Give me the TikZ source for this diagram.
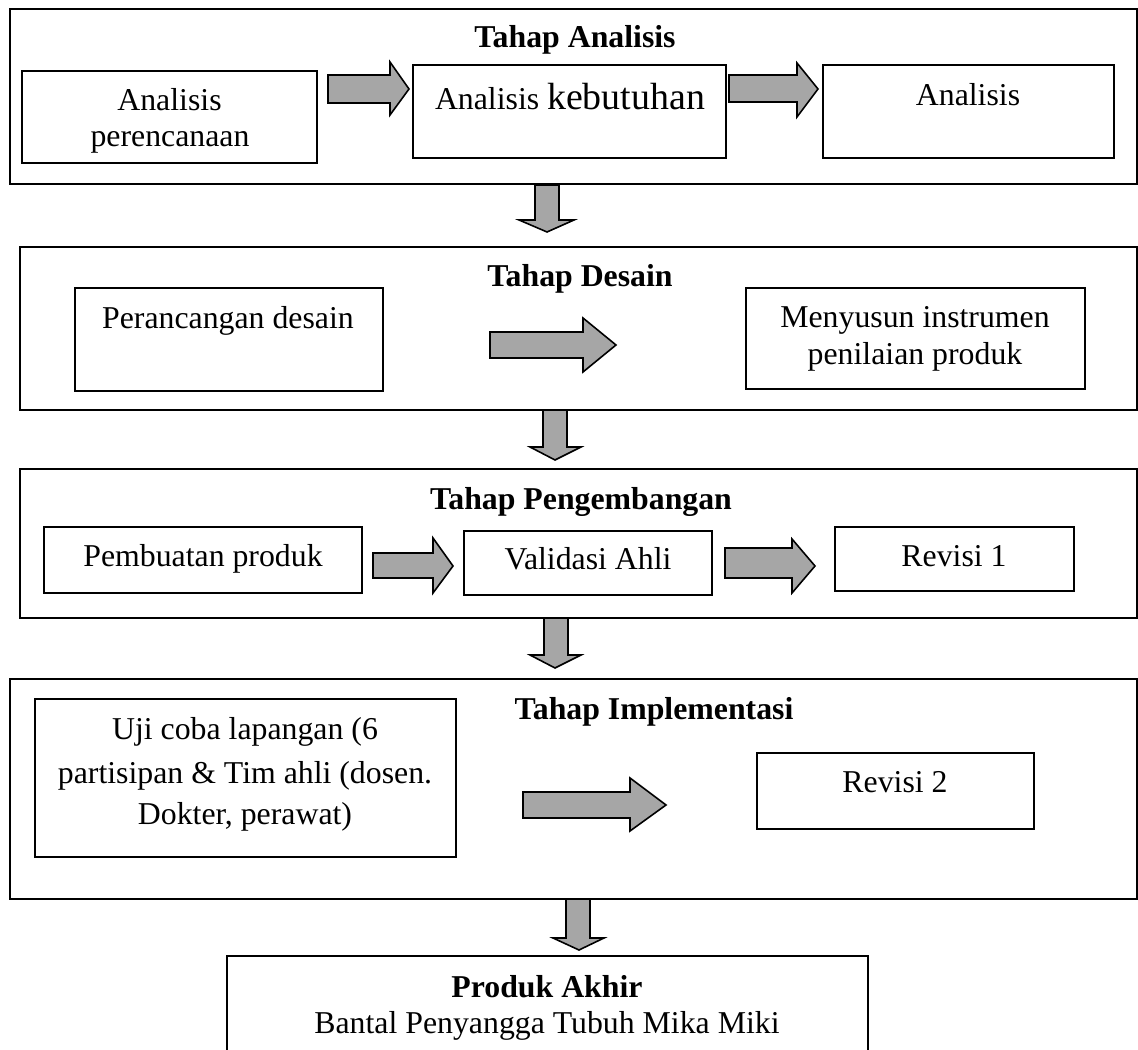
\documentclass[tikz,border=0pt]{standalone}
\usepackage{fontspec}
\setmainfont{Liberation Serif}
\usetikzlibrary{fit}
\definecolor{arrowgray}{HTML}{A6A6A6}
\tikzset{
  box/.style={draw=black, line width=0.8pt, inner sep=0pt, fill=none},
  outerbox/.style={draw=black, line width=0.8pt, inner sep=0pt},
  txt/.style={inner sep=0pt, anchor=base, font=\fontsize{12pt}{14pt}\selectfont},
  ttl/.style={inner sep=0pt, anchor=base, font=\fontsize{12pt}{14pt}\selectfont\bfseries},
  blk/.style={draw=black, line width=0.6pt, fill=arrowgray, line join=miter}
}
% right block arrow: x0, xtip, xhead, shaft top, shaft bottom, head top, head bottom, tip y
\newcommand\blkR[8]{\draw[blk] (#1,#4) -- (#3,#4) -- (#3,#6) -- (#2,#8) -- (#3,#7) -- (#3,#5) -- (#1,#5) -- cycle;}
% down block arrow: y0, ytip, yhead, shaft left, shaft right, head left, head right, tip x
\newcommand\blkD[8]{\draw[blk] (#4,#1) -- (#4,#3) -- (#6,#3) -- (#8,#2) -- (#7,#3) -- (#5,#3) -- (#5,#1) -- cycle;}
\begin{document}
\begin{tikzpicture}[x=0.3774pt, y=-0.3774pt]
\useasboundingbox (0,0) rectangle (1138,1050);
\fill[white] (0,0) rectangle (1138,1050);

% ---------- Tahap Analisis ----------
\node[outerbox, fit={(10,9) (1137,184)}] (o1) {};
\node[ttl] (t1) at (575,48) {Tahap Analisis};
\node[box, fit={(22,71) (317,163)}] (b11) {};
\node[txt] (b11a) at (169.5,111) {Analisis};
\node[txt] (b11b) at (170,147) {perencanaan};
\node[box, fit={(413,65) (726,158)}] (b12) {};
\node[txt] (b12a) at (570,110) {Analisis {\fontsize{14.3pt}{16pt}\selectfont kebutuhan}};
\node[box, fit={(823,65) (1114,158)}] (b13) {};
\node[txt] (b13a) at (968,106) {Analisis};
\blkR{328}{409}{390}{75}{103}{62}{115}{89}
\blkR{729}{818}{797}{75}{102}{63}{117}{89}

\blkD{185}{232}{220}{535}{559}{519}{574}{547}

% ---------- Tahap Desain ----------
\node[outerbox, fit={(20,247) (1137,410)}] (o2) {};
\node[ttl] (t2) at (580,287) {Tahap Desain};
\node[box, fit={(75,288) (383,391)}] (b21) {};
\node[txt] (b21a) at (228,329) {Perancangan desain};
\node[box, fit={(746,288) (1085,389)}] (b22) {};
\node[txt] (b22a) at (915,328) {Menyusun instrumen};
\node[txt] (b22b) at (915,365) {penilaian produk};
\blkR{490}{616}{583}{332}{358}{318}{372}{345}

\blkD{410}{460}{447}{543}{567}{530}{581}{555}

% ---------- Tahap Pengembangan ----------
\node[outerbox, fit={(20,469) (1137,618)}] (o3) {};
\node[ttl] (t3) at (581,510) {Tahap Pengembangan};
\node[box, fit={(44,527) (362,593)}] (b31) {};
\node[txt] (b31a) at (203,567) {Pembuatan produk};
\node[box, fit={(464,531) (712,595)}] (b32) {};
\node[txt] (b32a) at (588,570) {Validasi Ahli};
\node[box, fit={(835,527) (1074,591)}] (b33) {};
\node[txt] (b33a) at (954,567) {Revisi 1};
\blkR{373}{453}{433}{553}{578}{538}{593}{566}
\blkR{725}{815}{792}{548}{578}{539}{593}{566}

\blkD{618}{668}{655}{544}{568}{530}{581}{555}

% ---------- Tahap Implementasi ----------
\node[outerbox, fit={(10,679) (1137,899)}] (o4) {};
\node[ttl] (t4) at (654,720) {Tahap Implementasi};
\node[box, fit={(35,699) (456,857)}] (b41) {};
\node[txt] (b41a) at (245,740) {Uji coba lapangan (6};
\node[txt] (b41b) at (245,783) {partisipan \& Tim ahli (dosen.};
\node[txt] (b41c) at (245,824) {Dokter, perawat)};
\node[box, fit={(757,753) (1034,829)}] (b42) {};
\node[txt] (b42a) at (895,793) {Revisi 2};
\blkR{523}{666}{630}{792}{818}{778}{831}{805}

\blkD{899}{950}{938}{566}{590}{553}{604}{579}

% ---------- Produk Akhir ----------
\coordinate (fbl) at (227,1052);
\coordinate (ftl) at (227,956);
\coordinate (ftr) at (868,956);
\coordinate (fbr) at (868,1052);
\draw[line width=0.8pt] (fbl) -- (ftl) -- (ftr) -- (fbr);
\node[ttl] (t5) at (547,997) {Produk Akhir};
\node[txt] (t5b) at (547,1033) {Bantal Penyangga Tubuh Mika Miki};
\end{tikzpicture}
\end{document}
